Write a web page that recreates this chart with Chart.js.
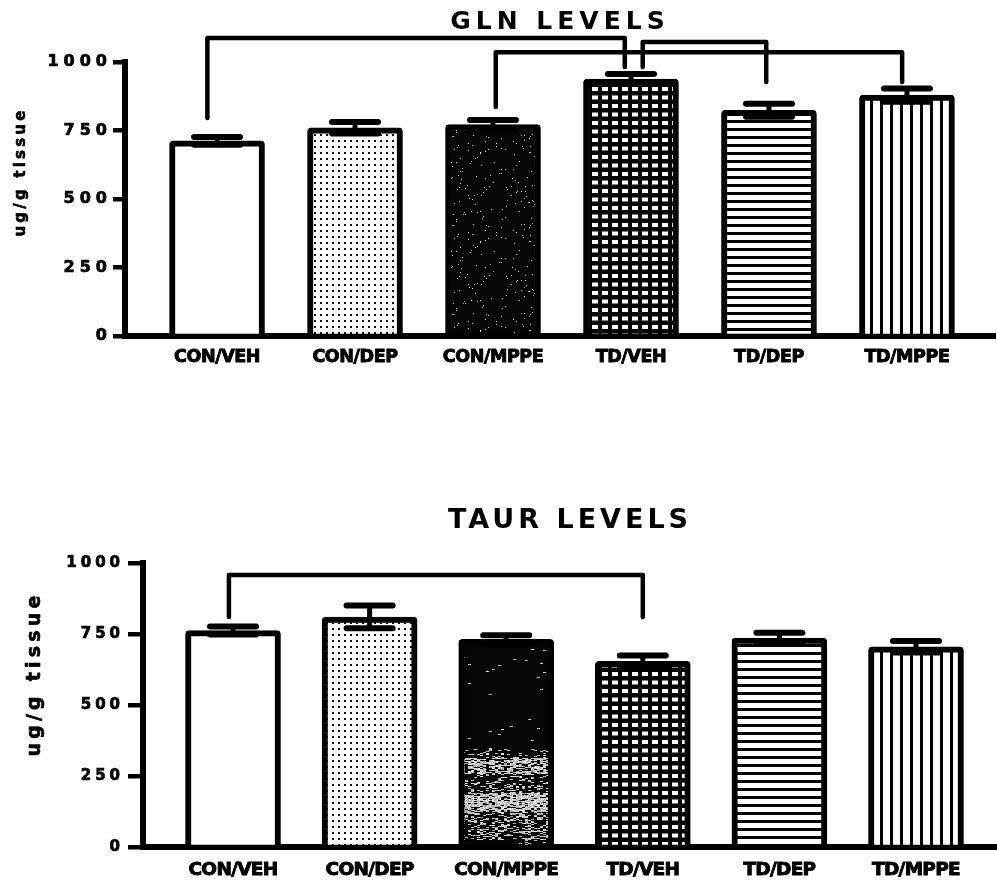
<!DOCTYPE html>
<html>
<head>
<meta charset="utf-8">
<script src="https://cdn.jsdelivr.net/npm/chart.js@4.4.1/dist/chart.umd.min.js"></script>
<style>
  html, body { margin: 0; padding: 0; background: #fff; }
  #wrap { position: relative; width: 997px; height: 884px; overflow: hidden; background: #fff; }
  canvas { position: absolute; left: 0; }
  #gln { top: 0; }
  #taur { top: 500px; }
</style>
</head>
<body>
<div id="wrap">
  <canvas id="gln" width="997" height="380"></canvas>
  <canvas id="taur" width="997" height="384"></canvas>
</div>
<script>
// Treatment groups along the x axis
const groups = ['CON/VEH', 'CON/DEP', 'CON/MPPE', 'TD/VEH', 'TD/DEP', 'TD/MPPE'];

// Glutamine, ug/g tissue (mean and SEM)
const glnMean = [712, 760, 772, 938, 824, 879];
const glnSem  = [14, 21, 16, 18, 24, 24];

// Taurine, ug/g tissue (mean and SEM)
const taurMean = [762, 810, 731, 654, 736, 705];
const taurSem  = [14, 40, 15, 20, 18, 20];

const yTicks = [0, 250, 500, 750, 1000];

// Significance brackets: [from group, to group, bracket level, from-leg end, to-leg end]
const glnBrackets  = [[0, 3, 1088, 796, 982], [3, 4, 1073, 982, 927], [2, 5, 1036, 836, 927]];
const taurBrackets = [[0, 3, 958, 810, 810]];

const FONT = 'DejaVu Sans';

// ---------- fill textures ----------
function tile(w, h, paint) {
  const c = document.createElement('canvas');
  c.width = w; c.height = h;
  const g = c.getContext('2d');
  paint(g, w, h);
  return g.createPattern(c, 'repeat');
}
function hash(x, y) {
  const s = Math.sin(x * 12.9898 + y * 78.233) * 43758.5453;
  return s - Math.floor(s);
}
const stipple = () => tile(6, 6, g => {
  g.fillStyle = '#fff'; g.fillRect(0, 0, 6, 6);
  g.fillStyle = '#111'; g.fillRect(2, 2, 2, 2);
});
const hLines = () => tile(8, 8, g => {
  g.fillStyle = '#fff'; g.fillRect(0, 0, 8, 8);
  g.fillStyle = '#000'; g.fillRect(0, 0, 8, 3);
});
const vLines = () => tile(10, 8, g => {
  g.fillStyle = '#fff'; g.fillRect(0, 0, 10, 8);
  g.fillStyle = '#000'; g.fillRect(0, 0, 3, 8);
});
const cells = () => tile(10, 17, g => {
  g.fillStyle = '#000'; g.fillRect(0, 0, 10, 17);
  g.fillStyle = '#fff';
  g.fillRect(2, 2, 6, 4);
  g.fillRect(2, 10.5, 6, 4);
});
// dark speckled fill; density(y) gives the share of pale flecks per row,
// each fleck a short horizontal run of `run` pixels
function darkTexture(w, h, run, density) {
  return tile(w, h, g => {
    g.fillStyle = '#050505'; g.fillRect(0, 0, w, h);
    const img = g.getImageData(0, 0, w, h);
    for (let y = 0; y < h; y++) {
      const d = density(y);
      for (let x = 0; x < w; x++) {
        if (hash(Math.floor(x / run), y) < d) {
          const k = (y * w + x) * 4;
          const v = 150 + Math.floor(hash(y, x) * 100);
          img.data[k] = img.data[k + 1] = img.data[k + 2] = v;
        }
      }
    }
    g.putImageData(img, 0, 0);
  });
}
const darkTop = () => darkTexture(97, 89, 1, () => 0.018);
const darkBottom = () => darkTexture(997, 384, 3, y => {
  const a = y + 500;
  if (a < 748) return 0.008;
  if (a < 758) return 0.15;
  if (a < 774) return 0.65;
  if (a < 793) return 0.22;
  if (a < 812) return 0.75;
  if (a < 840) return 0.3;
  return 0.1;
});

// ---------- drawing helpers ----------
const textSpacing = {
  id: 'textSpacing',
  beforeDraw(chart, args, opts) { chart.ctx.letterSpacing = opts.axis; },
  beforeDatasetsDraw(chart, args, opts) { chart.ctx.letterSpacing = opts.labels; },
  afterDraw(chart) { chart.ctx.letterSpacing = '0px'; }
};

function overlays(mean, sem, brackets, cfg) {
  return {
    id: 'overlays',
    afterDatasetsDraw(chart) {
      const { ctx, scales: { x, y } } = chart;
      ctx.save();
      ctx.strokeStyle = '#000';
      ctx.lineCap = 'round';
      mean.forEach((m, i) => {
        const cx = x.getPixelForValue(i);
        const hi = y.getPixelForValue(m + sem[i]);
        const lo = y.getPixelForValue(m - sem[i]);
        ctx.lineWidth = 5;
        ctx.beginPath(); ctx.moveTo(cx, hi); ctx.lineTo(cx, lo); ctx.stroke();
        ctx.lineWidth = 6;
        ctx.beginPath();
        ctx.moveTo(cx - cfg.cap, hi); ctx.lineTo(cx + cfg.cap, hi);
        ctx.moveTo(cx - cfg.cap, lo); ctx.lineTo(cx + cfg.cap, lo);
        ctx.stroke();
      });
      ctx.restore();
    },
    afterDraw(chart) {
      const { ctx, scales: { x, y } } = chart;
      ctx.save();
      ctx.strokeStyle = '#000';
      ctx.lineWidth = 4.5;
      ctx.lineCap = 'round';
      ctx.lineJoin = 'round';
      brackets.forEach((b, k) => {
        const [from, to, level, endA, endB] = b;
        const xa = x.getPixelForValue(from + cfg.legShift[k][0]);
        const xb = x.getPixelForValue(to + cfg.legShift[k][1]);
        const yl = y.getPixelForValue(level);
        ctx.beginPath();
        ctx.moveTo(xa, y.getPixelForValue(endA));
        ctx.lineTo(xa, yl);
        ctx.lineTo(xb, yl);
        ctx.lineTo(xb, y.getPixelForValue(endB));
        ctx.stroke();
      });
      // y-axis title
      const t = cfg.yTitle;
      ctx.translate(t.x, t.y);
      ctx.rotate(-Math.PI / 2);
      ctx.font = `bold ${t.size}px "${FONT}"`;
      ctx.letterSpacing = t.spacing;
      ctx.fillStyle = '#000';
      ctx.lineWidth = 0.6;
      ctx.textAlign = 'center';
      ctx.textBaseline = 'middle';
      ctx.fillText(t.text, 0, 0);
      ctx.strokeText(t.text, 0, 0);
      ctx.restore();
    }
  };
}

function makeChart(id, title, mean, sem, brackets, look) {
  const fills = ['#ffffff', stipple(), look.dark(), cells(), hLines(), vLines()];
  return new Chart(document.getElementById(id), {
    type: 'bar',
    data: {
      datasets: [{
        data: mean.map((v, i) => ({ x: i, y: v })),
        backgroundColor: fills,
        borderColor: '#000',
        borderWidth: 6,
        borderSkipped: 'bottom',
        borderRadius: { topLeft: 4, topRight: 4 },
        barThickness: 95
      }]
    },
    options: {
      responsive: false,
      devicePixelRatio: 1,
      animation: false,
      events: [],
      layout: { padding: { left: 0, right: look.padRight, top: 0, bottom: 0 } },
      scales: {
        x: {
          type: 'linear',
          min: look.xMin, max: look.xMax,
          bounds: 'data',
          offset: false,
          afterBuildTicks: s => { s.ticks = groups.map((_, i) => ({ value: i })); },
          afterFit: s => { s.height = look.xHeight; },
          ticks: {
            callback: v => groups[v],
            autoSkip: false, maxRotation: 0,
            color: '#000',
            textStrokeColor: '#000',
            textStrokeWidth: 0.9,
            padding: look.xPad,
            z: 1,
            font: { family: FONT, weight: 'bold', size: look.xFont, lineHeight: 1 }
          },
          grid: { display: false },
          border: { display: true, width: 6, color: '#000' }
        },
        y: {
          min: 0, max: 1000,
          afterBuildTicks: s => { s.ticks = yTicks.map(v => ({ value: v })); },
          afterFit: s => { s.width = look.yWidth; },
          ticks: {
            callback: v => String(v),
            color: '#000',
            textStrokeColor: '#000',
            textStrokeWidth: 0.7,
            padding: look.yPad,
            font: { family: FONT, weight: 'bold', size: look.yFont, lineHeight: 1 }
          },
          grid: {
            display: true, drawOnChartArea: false, drawTicks: true,
            tickLength: look.tickLen, lineWidth: 4.5, color: '#000'
          },
          border: { display: true, width: 6, color: '#000' }
        }
      },
      plugins: {
        legend: { display: false },
        tooltip: { enabled: false },
        title: {
          display: true, text: title, fullSize: false, color: '#000',
          font: { family: FONT, weight: 'bold', size: look.titleSize, lineHeight: 1 },
          padding: look.titlePad
        },
        textSpacing: { axis: look.spacing, labels: look.labelSpacing }
      }
    },
    plugins: [textSpacing, overlays(mean, sem, brackets, look)]
  });
}

makeChart('gln', 'GLN LEVELS', glnMean, glnSem, glnBrackets, {
  dark: darkTop,
  padRight: 2, xMin: -0.667, xMax: 5.638, xHeight: 44, xPad: 5, xFont: 17.5,
  yWidth: 125, yPad: 1, yFont: 16, tickLen: 12,
  titleSize: 25, titlePad: { top: 9.5, bottom: 27.5 },
  spacing: '5px', labelSpacing: '-0.4px',
  cap: 23,
  legShift: [[-0.07, -0.045], [0.085, -0.02], [0.02, -0.035]],
  yTitle: { text: 'ug/g tissue', x: 21, y: 172, size: 15, spacing: '3.2px' }
});

makeChart('taur', 'TAUR LEVELS', taurMean, taurSem, taurBrackets, {
  dark: darkBottom,
  padRight: 0, xMin: -0.659, xMax: 5.593, xHeight: 37, xPad: 6, xFont: 18.5,
  yWidth: 143, yPad: 4, yFont: 15, tickLen: 15,
  titleSize: 27, titlePad: { top: 7.5, bottom: 28.5 },
  spacing: '4px', labelSpacing: '-0.7px',
  cap: 23,
  legShift: [[-0.03, 0]],
  yTitle: { text: 'ug/g tissue', x: 35, y: 174, size: 19, spacing: '4.2px' }
});
</script>
</body>
</html>
